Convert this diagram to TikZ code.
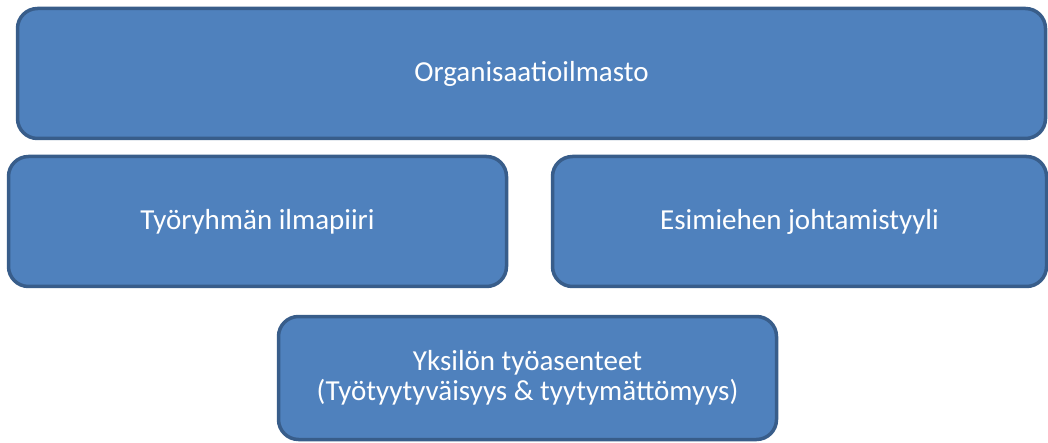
\documentclass[tikz,border=0pt]{standalone}
\usepackage{fontspec}
\setmainfont{Carlito}
\definecolor{lohko}{HTML}{4F81BD}
\definecolor{reuna}{HTML}{385D8A}
\tikzset{laatikko/.style={draw=reuna,fill=lohko,line width=3.5pt,rounded corners=20pt,
  text=white,align=center,font=\fontsize{29}{30.5}\selectfont,inner sep=0pt}}
\newcommand{\lohko}[6]{\node[laatikko,minimum width=#4pt,minimum height=#5pt] (#1) at (#2,#3) {#6};}

\begin{document}
\begin{tikzpicture}[x=1pt,y=-1pt]
    \useasboundingbox (0,0) rectangle (1048,443);
    \lohko{ilmasto}{531.5}{73.5}{1028}{130}{Organisaatioilmasto}
    \lohko{ryhma}{257.5}{221.5}{498}{130}{Työryhmän ilmapiiri}
    \lohko{esimies}{799.5}{221.5}{494}{130}{Esimiehen johtamistyyli}
    \lohko{yksilo}{527.5}{378}{498}{123}{Yksilön työasenteet\\(Työtyytyväisyys \& tyytymättömyys)}
\end{tikzpicture}
\end{document}
